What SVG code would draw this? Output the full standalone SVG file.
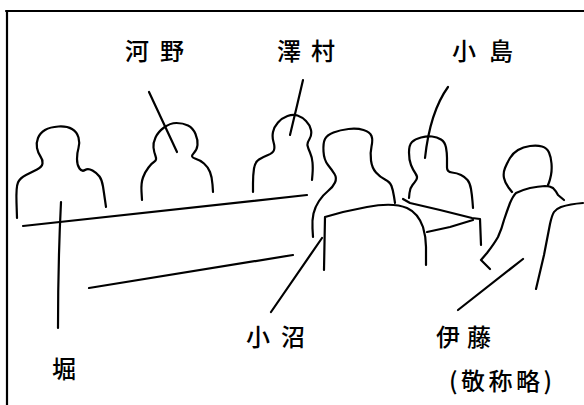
<svg xmlns="http://www.w3.org/2000/svg" width="584" height="405" viewBox="0 0 584 405">
<style>
.s{fill:none;stroke:#000;stroke-width:2.2;stroke-linecap:round;stroke-linejoin:round}
.t{font-family:"Noto Sans CJK JP","Noto Sans CJK SC",sans-serif;font-size:24px;font-weight:500;fill:#000}
</style>
<rect x="0" y="0" width="584" height="405" fill="#fff"/>
<g id="frame">
<polyline class="s" points="6,11 584,11"/>
<polyline class="s" points="7,11 7,405"/>
</g>
<g id="hori">
<path class="s" d="M17,218 L16.5,202.5 Q16,187 18,182.5 Q20,178 26,175 Q32,172 37,169.5 Q42,167 42.5,163.5 Q43,160 40.5,156.5 Q38,153 37,148 Q36,143 38,138 Q40,133 45,130 Q50,127 58.5,126.5 Q67,126 72,129 Q77,132 78.5,137.5 Q80,143 78.5,148 Q77,153 77,159 Q77,165 79.5,168.5 Q82,172 85,170 Q88,168 92.5,170.5 Q97,173 99.5,176.5 Q102,180 103,186.5 Q104,193 105,200 L106,207"/>
</g>
<g id="kono">
<path class="s" d="M142,200 L141.5,191.5 Q141,183 143,177.5 Q145,172 148.5,167.5 Q152,163 154.5,161.5 Q157,160 155.5,156 Q154,152 153.5,147.5 Q153,143 155.5,137.5 Q158,132 164,127.5 Q170,123 176.5,123 Q183,123 188,125.5 Q193,128 195.5,134 Q198,140 197.5,145 Q197,150 193.5,153.5 Q190,157 195,158.5 Q200,160 204,163.5 Q208,167 210,172 Q212,177 212.5,184.5 L213,192"/>
</g>
<g id="sawamura">
<path class="s" d="M253,192 L253,183.5 Q253,175 254,168.5 Q255,162 259,159.5 Q263,157 268,155 Q273,153 274,150 Q275,147 273.5,142 Q272,137 273,132 Q274,127 278,122.5 Q282,118 287.5,116 Q293,114 297.5,115.5 Q302,117 306,121 Q310,125 311,130 Q312,135 309.5,139 Q307,143 307.5,145.5 Q308,148 310,152.5 Q312,157 312.5,162.5 Q313,168 312.5,174 L312,180"/>
</g>
<g id="konuma">
<path class="s" d="M313,237 L312.5,228.5 Q312,220 313.5,213.5 Q315,207 319,201 Q323,195 328,191 Q333,187 335,182.5 Q337,178 334.5,174 Q332,170 328,165 Q324,160 323.5,151.5 Q323,143 325,139 Q327,135 333.5,132.5 Q340,130 348.5,129 Q357,128 363.5,130 Q370,132 371.5,136 Q373,140 371.5,146.5 Q370,153 371,160.5 Q372,168 376,172.5 Q380,177 385,179.5 Q390,182 391.5,186 Q393,190 394,196.5 L395,203"/>
<path class="s" d="M324,270 L325,217 L343,212 L367,207 Q393,202 407,208 Q418,213 423,227 Q426,237 426,247 L426,265"/>
</g>
<g id="kojima">
<path class="s" d="M409,198 L409.5,193 Q410,188 412.5,185 Q415,182 416.5,179.5 Q418,177 415.5,173.5 Q413,170 411,165 Q409,160 409,152.5 Q409,145 412,142 Q415,139 421,137.5 Q427,136 432,136.5 Q437,137 441,139.5 Q445,142 446,147.5 Q447,153 447,158 L447,167.5 Q447,172 452,172.5 Q457,173 461,175 Q465,177 467.5,180 Q470,183 471,189 Q472,195 472.5,201.5 L473,208"/>
<polyline class="s" points="403,199 410,203 440,210 472,218 480,219 481,245"/>
<polyline class="s" points="427,232 450,227 473,220"/>
</g>
<g id="ito">
<path class="s" d="M512,192 L508.5,187.5 Q505,183 504,178 Q503,173 505,168 Q507,163 510,158 Q513,153 518,150 Q523,147 530,146 Q537,145 542,146.5 Q547,148 549,152.5 Q551,157 551.5,163.5 Q552,170 551,175 Q550,180 549,182.5 L548,185"/>
<path class="s" d="M490,269 L481,260 L487,253 Q494,244 498,237 Q502,228 504,220 Q507,211 510,203 Q513,196 516,193 Q522,190 530,188 Q538,186.5 545,186 Q550,186 553,188 Q556,191 558,195 L564,200"/>
<path class="s" d="M536,289 L544,255 L550,224 Q552,215 554,212 Q556,209 561,207 Q570,204 583,203"/>
</g>
<g id="tables">
<polyline class="s" points="23,226 307,195"/>
<polyline class="s" points="89,288 293,255"/>
</g>
<g id="connectors">
<polyline class="s" points="149,92 177,152"/>
<path class="s" d="M303,80 Q297,106 290,135"/>
<path class="s" d="M448,87 Q430,112 425,158"/>
<path class="s" d="M61,202 Q58,262 58,328"/>
<polyline class="s" points="271,312 322,238"/>
<polyline class="s" points="458,310 523,259"/>
</g>
<g id="labels">
<text class="t" x="125" y="60" letter-spacing="11">河野</text>
<text class="t" x="277" y="60" letter-spacing="10">澤村</text>
<text class="t" x="452" y="60" letter-spacing="13">小島</text>
<text class="t" x="246" y="346" letter-spacing="11">小沼</text>
<text class="t" x="436" y="346" letter-spacing="7">伊藤</text>
<text class="t" x="52" y="378">堀</text>
<text class="t" x="449" y="390" font-size="25" letter-spacing="3.5">(敬称略)</text>
</g>
</svg>
